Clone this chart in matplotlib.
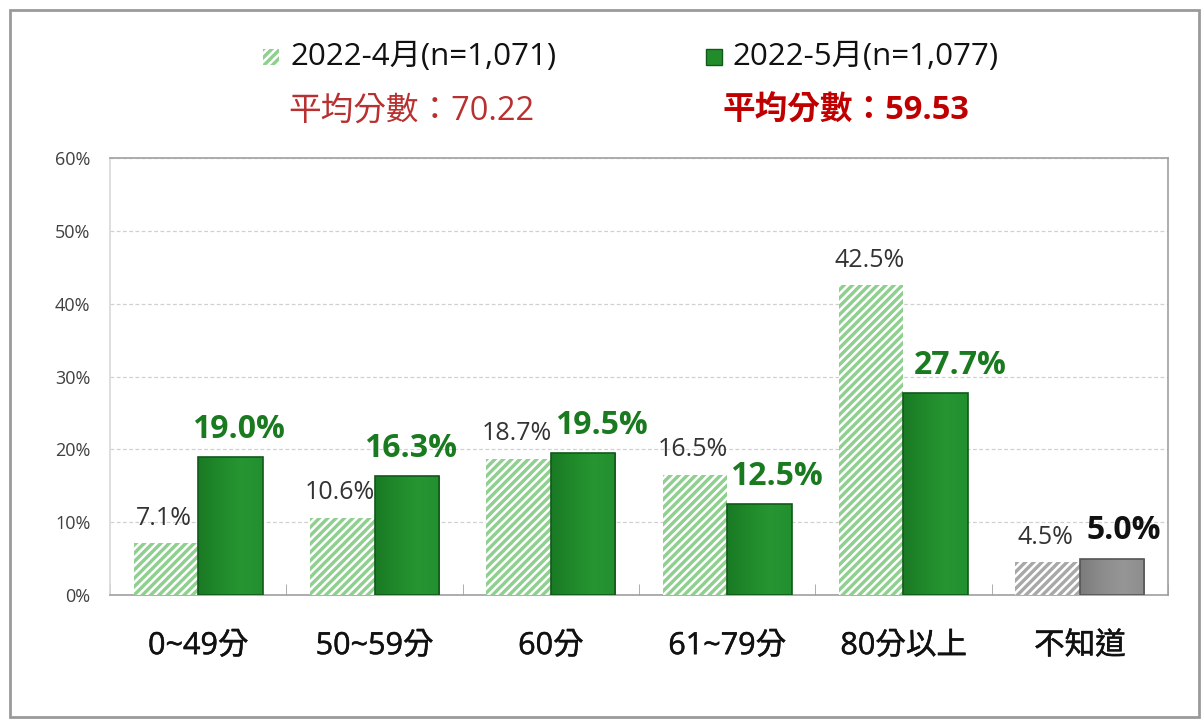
import matplotlib
matplotlib.use("Agg")
import matplotlib.pyplot as plt
import matplotlib.patheffects as pe
import numpy as np
from matplotlib.patches import Rectangle
from matplotlib.colors import LinearSegmentedColormap

FONT = ['Open Sans', 'Noto Sans CJK TC', 'DejaVu Sans']
plt.rcParams['font.family'] = FONT
plt.rcParams['hatch.linewidth'] = 1.8

categories = ['0~49分', '50~59分', '60分', '61~79分', '80分以上', '不知道']
apr = [7.1, 10.6, 18.7, 16.5, 42.5, 4.5]
may = [19.0, 16.3, 19.5, 12.5, 27.7, 5.0]
series_names = ['2022-4月(n=1,071)', '2022-5月(n=1,077)']
mean_labels = ['平均分數：70.22', '平均分數：59.53']
yticks = [0, 10, 20, 30, 40, 50, 60]

# label horizontal nudges (pixels), as placed in the original
dx_may = [8, 4, 18, 17, 24, 12]

W, H = 1201, 720
fig = plt.figure(figsize=(W / 100, H / 100), dpi=100)
fig.patch.set_facecolor('white')

# outer border
fig.add_artist(Rectangle((10 / W, 1 - 717 / H), (1199 - 10) / W, (717 - 10) / H,
                         transform=fig.transFigure, fill=False,
                         edgecolor='#9a9a9a', linewidth=2))

ax = fig.add_axes([110 / W, 1 - 595 / H, (1168 - 110) / W, (595 - 158) / H])
x = np.arange(len(categories))
bw = 0.366

light_green = '#8fcf8f'
dark_green = '#238c2a'
grey_light = '#a8a8a8'
grey_dark = '#8a8a8a'

c1 = [light_green] * 5 + [grey_light]
c2 = [dark_green] * 5 + [grey_dark]
e2 = ['#11591a'] * 5 + ['#555555']

b1 = ax.bar(x - bw / 2, apr, bw, color=c1, edgecolor='white', hatch='////',
            linewidth=0, zorder=3)
b2 = ax.bar(x + bw / 2, may, bw, color=c2, edgecolor=e2, linewidth=1.2,
            zorder=4)

# gradient shading on the solid bars
green_cmap = LinearSegmentedColormap.from_list(
    'g', ['#1a7a24', '#208a2a', '#279532', '#239030'])
grey_cmap = LinearSegmentedColormap.from_list(
    'k', ['#7c7c7c', '#8c8c8c', '#969696', '#8e8e8e'])
grad = np.linspace(0, 1, 64).reshape(1, -1)
for i, rect in enumerate(b2):
    x0, y0 = rect.get_x(), rect.get_y()
    w, h = rect.get_width(), rect.get_height()
    im = ax.imshow(grad, extent=[x0, x0 + w, y0, y0 + h], aspect='auto',
                   cmap=green_cmap if i < 5 else grey_cmap, zorder=3.5,
                   interpolation='bilinear')
    im.set_clip_path(rect)
    rect.set_facecolor('none')

for i, v in enumerate(apr):
    ax.annotate(f'{v:.1f}%', (x[i] - bw / 2, v), xytext=(-1.5, 9),
                textcoords='offset points', ha='center', va='bottom',
                fontsize=18, color='#333333')
for i, v in enumerate(may):
    col = '#1a7a1f' if i < 5 else '#111111'
    ax.annotate(f'{v:.1f}%', (x[i] + bw / 2, v), xytext=(dx_may[i] * 0.72, 8),
                textcoords='offset points', ha='center', va='bottom',
                fontsize=23, fontweight='bold', color=col)

ax.set_xlim(-0.5, len(categories) - 0.5)
ax.set_ylim(0, 60)
ax.set_yticks(yticks)
ax.set_yticklabels([f'{t}%' for t in yticks], fontsize=13, color='#404040')
ax.tick_params(axis='y', length=0, pad=14)
ax.set_xticks(x)
ax.set_xticklabels(categories, fontsize=22, color='#111111')
for lbl in ax.get_xticklabels():
    lbl.set_path_effects([pe.withStroke(linewidth=0.35, foreground='#111111')])
ax.tick_params(axis='x', length=0, pad=26)
ax.set_xticks(np.arange(len(categories) + 1) - 0.5, minor=True)
ax.tick_params(axis='x', which='minor', direction='in', length=8,
               color='#a0a0a0')
ax.grid(axis='y', linestyle=(0, (3, 2)), color='#d0d0d0', linewidth=0.9,
        zorder=0)
for s in ax.spines.values():
    s.set_color('#a0a0a0')
    s.set_linewidth(1.2)
ax.spines['left'].set_color('#d8d8d8')

# legend
def legend_item(x0, hatch, face, edge, label):
    r = Rectangle((x0 / W, 1 - 65 / H), 16 / W, 16 / H,
                  transform=fig.transFigure, facecolor=face,
                  edgecolor=edge, hatch=hatch, linewidth=0 if hatch else 1)
    fig.add_artist(r)
    fig.text((x0 + 27) / W, 1 - 57 / H, label, fontsize=22.5, color='#111111',
             va='center', ha='left')

legend_item(263, '////', light_green, 'white', series_names[0])
legend_item(706, None, dark_green, '#11591a', series_names[1])

fig.text(411 / W, 1 - 111 / H, mean_labels[0], fontsize=23.5, color='#b83030',
         ha='center', va='center')
fig.text(846 / W, 1 - 111 / H, mean_labels[1], fontsize=23.5, color='#c00000',
         ha='center', va='center', fontweight='bold')

fig.savefig('out.png', dpi=100, facecolor='white')
